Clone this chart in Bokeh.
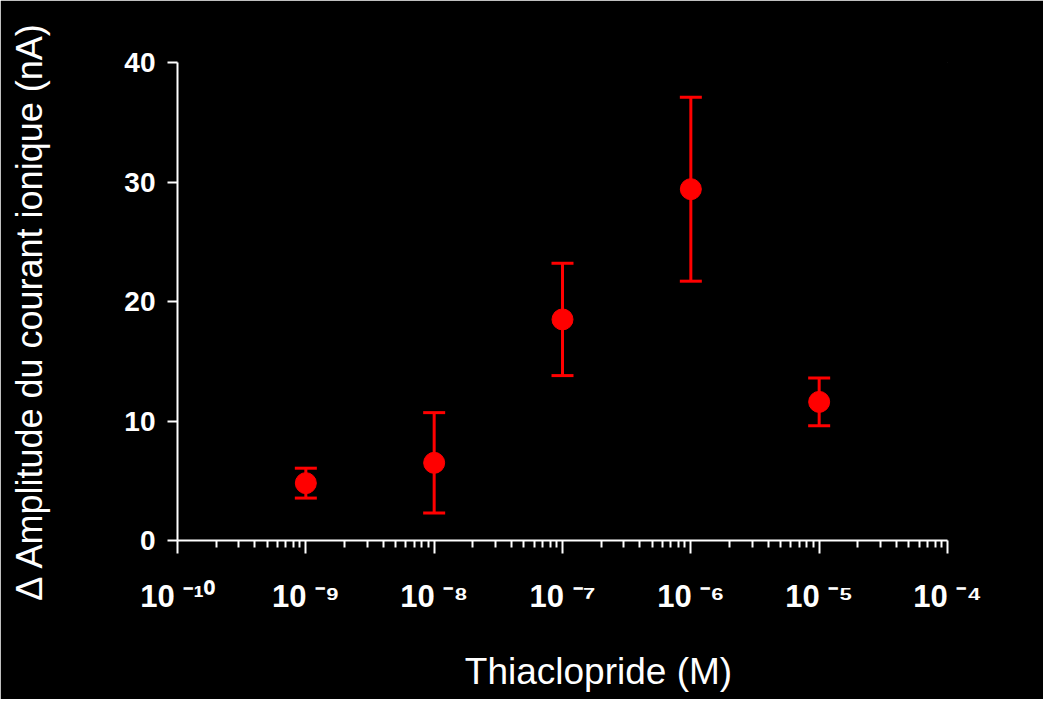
from bokeh.plotting import figure
from bokeh.models import (ColumnDataSource, Whisker, TeeHead, FixedTicker,
                          CustomJSTickFormatter, Range1d)
from bokeh.embed import file_html
from bokeh.resources import INLINE

# ---- data ----
concentration = [1e-9, 1e-8, 1e-7, 1e-6, 1e-5]
amplitude = [4.8, 6.5, 18.5, 29.4, 11.6]
error = [1.25, 4.2, 4.7, 7.7, 2.0]

decades = [1e-10, 1e-9, 1e-8, 1e-7, 1e-6, 1e-5, 1e-4]
y_ticks = [0, 10, 20, 30, 40]

x_label = "Thiaclopride (M)"
y_label = "\u0394 Amplitude du courant ionique (nA)"

src = ColumnDataSource(dict(
    x=concentration,
    y=amplitude,
    upper=[a + e for a, e in zip(amplitude, error)],
    lower=[a - e for a, e in zip(amplitude, error)],
))

minor = [m * d for d in decades[:-1] for m in range(2, 10)]

p = figure(width=1043, height=699, x_axis_type="log",
           x_range=Range1d(decades[0], decades[-1]),
           y_range=Range1d(0, 40),
           output_backend="svg", toolbar_location=None,
           background_fill_color="black", border_fill_color="black",
           min_border_left=177, min_border_right=96,
           min_border_top=62, min_border_bottom=159)
p.outline_line_color = "black"
p.outline_line_width = 1
p.grid.visible = False

red = "#ff0000"
wh = Whisker(source=src, base="x", upper="upper", lower="lower",
             line_color=red, line_width=3,
             upper_head=TeeHead(size=22, line_color=red, line_width=3),
             lower_head=TeeHead(size=22, line_color=red, line_width=3))
p.add_layout(wh)
p.scatter("x", "y", source=src, size=21, fill_color=red, line_color=red)

font = "Liberation Sans"
nbsp = "\u00a0"

xa = p.xaxis[0]
xa.ticker = FixedTicker(ticks=decades, minor_ticks=minor)
xa.formatter = CustomJSTickFormatter(code="""
const sup = {'-':'\u207b','0':'\u2070','1':'\u00b9','2':'\u00b2','3':'\u00b3','4':'\u2074','5':'\u2075','6':'\u2076','7':'\u2077','8':'\u2078','9':'\u2079'};
const e = Math.round(Math.log10(tick));
return '10 ' + String(e).split('').map(c => sup[c]).join('');
""")
xa.axis_line_color = "white"
xa.axis_line_width = 2
xa.major_tick_line_color = "white"
xa.major_tick_line_width = 2
xa.major_tick_out = 13
xa.major_tick_in = 0
xa.minor_tick_line_color = "white"
xa.minor_tick_line_width = 2
xa.minor_tick_out = 7
xa.minor_tick_in = 0
xa.major_label_text_color = "white"
xa.major_label_text_font = font
xa.major_label_text_font_style = "bold"
xa.major_label_text_font_size = "31px"
xa.major_label_standoff = 25
xa.axis_label = nbsp * 7 + x_label
xa.axis_label_text_color = "white"
xa.axis_label_text_font = font
xa.axis_label_text_font_style = "normal"
xa.axis_label_text_font_size = "37px"
xa.axis_label_standoff = 34

ya = p.yaxis[0]
ya.ticker = FixedTicker(ticks=y_ticks)
ya.axis_line_color = "white"
ya.axis_line_width = 2
ya.major_tick_line_color = "white"
ya.major_tick_line_width = 2
ya.major_tick_out = 10
ya.major_tick_in = 0
ya.minor_tick_line_color = None
ya.major_label_text_color = "white"
ya.major_label_text_font = font
ya.major_label_text_font_style = "bold"
ya.major_label_text_font_size = "28px"
ya.major_label_standoff = 12
ya.axis_label = y_label + nbsp * 2
ya.axis_label_text_color = "white"
ya.axis_label_text_font = font
ya.axis_label_text_font_style = "normal"
ya.axis_label_text_font_size = "36px"
ya.axis_label_standoff = 71

open("out.html", "w").write(file_html(p, INLINE))
